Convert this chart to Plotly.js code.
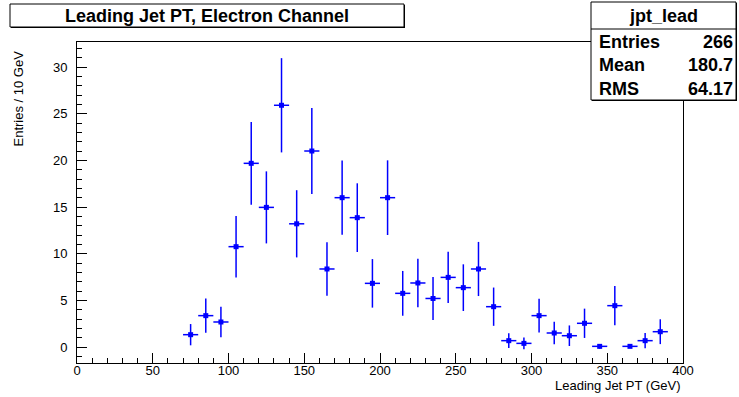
<!DOCTYPE html>
<html>
<head>
<meta charset="utf-8">
<script src="https://cdn.plot.ly/plotly-3.0.1.min.js"></script>
<style>
  html, body { margin: 0; padding: 0; background: #ffffff; }
  #chart { width: 739px; height: 397px; }
</style>
</head>
<body>
<div id="chart"></div>
<script>
// ---- data (jpt_lead) ----
const binCenters = [75, 85, 95, 105, 115, 125, 135, 145, 155, 165, 175, 185, 195, 205, 215, 225,
                    235, 245, 255, 265, 275, 285, 295, 305, 315, 325, 335, 345, 355, 365, 375, 385];
const binContents = [1.32, 3.36, 2.68, 10.75, 19.68, 14.96, 25.9, 13.2, 21.0, 8.36, 16.0, 13.86, 6.82, 16.0, 5.75, 6.86,
                     5.2, 7.46, 6.36, 8.36, 4.32, 0.68, 0.39, 3.36, 1.5, 1.21, 2.54, 0.07, 4.43, 0.07, 0.68, 1.64];
const binErrors = [1.14, 1.84, 1.63, 3.29, 4.43, 3.86, 5.05, 3.6, 4.6, 2.87, 3.98, 3.68, 2.6, 4.0, 2.4, 2.6,
                   2.3, 2.75, 2.5, 2.9, 2.05, 0.8, 0.64, 1.8, 1.2, 1.1, 1.57, 0.25, 2.1, 0.15, 0.82, 1.33];
const binHalfWidth = [5];

const chartTitle = "Leading Jet PT, Electron Channel";
const xTitle = "Leading Jet PT (GeV)";
const yTitle = "Entries / 10 GeV";
const statsName = "jpt_lead";
const statsLabels = ["Entries", "Mean", "RMS"];
const statsValues = ["266", "180.7", "64.17"];

// ---- layout geometry (pixels) ----
const W = 739, H = 397;
const L = 77, R = 683, T = 42, B = 363;
const px = X => (X - L) / (R - L);
const py = Y => (B - Y) / (B - T);
const font = "Liberation Sans, Arial, Helvetica, sans-serif";

const trace = {
  type: "scatter",
  mode: "markers",
  x: binCenters,
  y: binContents,
  marker: { symbol: "square", size: 5, color: "#0000ff" },
  error_y: { type: "data", array: binErrors, visible: true, color: "#0000ff", thickness: 1.5, width: 0 },
  error_x: { type: "constant", value: binHalfWidth[0], visible: true, color: "#0000ff", thickness: 1.5, width: 0 },
  hoverinfo: "x+y",
  showlegend: false
};

function box(x0, y0, x1, y1) {
  return [
    { type: "rect", xref: "paper", yref: "paper", layer: "above",
      x0: px(x0 + 1), x1: px(x1 + 1), y0: py(y0 + 1), y1: py(y1 + 1),
      line: { width: 0 }, fillcolor: "#000000" },
    { type: "rect", xref: "paper", yref: "paper", layer: "above",
      x0: px(x0), x1: px(x1), y0: py(y0), y1: py(y1),
      line: { width: 1, color: "#000000" }, fillcolor: "#ffffff" }
  ];
}

const shapes = []
  .concat(box(10, 4, 404, 27))
  .concat(box(591, 2, 736, 100))
  .concat([{ type: "line", xref: "paper", yref: "paper", layer: "above",
             x0: px(591), x1: px(736), y0: py(29), y1: py(29),
             line: { width: 1, color: "#000000" } }]);

const annotations = [
  { text: "<b>" + chartTitle + "</b>", xref: "paper", yref: "paper",
    x: px(207), y: py(15.5), xanchor: "center", yanchor: "middle", showarrow: false,
    font: { family: font, size: 18, color: "#000000" } },
  { text: "<b>" + statsName + "</b>", xref: "paper", yref: "paper",
    x: px(663.5), y: py(15.5), xanchor: "center", yanchor: "middle", showarrow: false,
    font: { family: font, size: 18, color: "#000000" } },
  { text: xTitle, xref: "paper", yref: "paper",
    x: px(683), y: py(385), xanchor: "right", yanchor: "middle", showarrow: false,
    font: { family: font, size: 13, color: "#000000" } },
  { text: yTitle, xref: "paper", yref: "paper", textangle: -90,
    x: px(17.5), y: py(49), xanchor: "center", yanchor: "top", showarrow: false,
    font: { family: font, size: 13, color: "#000000" } }
];
const rowY = [42, 65.5, 89];
for (let i = 0; i < statsLabels.length; i++) {
  annotations.push({ text: "<b>" + statsLabels[i] + "</b>", xref: "paper", yref: "paper",
    x: px(597), y: py(rowY[i]), xanchor: "left", yanchor: "middle", showarrow: false,
    font: { family: font, size: 18, color: "#000000" } });
  annotations.push({ text: "<b>" + statsValues[i] + "</b>", xref: "paper", yref: "paper",
    x: px(735), y: py(rowY[i]), xanchor: "right", yanchor: "middle", showarrow: false,
    font: { family: font, size: 18, color: "#000000" } });
}

const layout = {
  width: W, height: H,
  margin: { l: L, r: W - R, t: T, b: H - B, pad: 0 },
  paper_bgcolor: "#ffffff",
  plot_bgcolor: "#ffffff",
  font: { family: font, size: 13, color: "#000000" },
  xaxis: {
    range: [0, 400], tick0: 0, dtick: 50,
    ticks: "inside", ticklen: 10, tickwidth: 1, tickcolor: "#000000",
    ticklabelstandoff: -5,
    minor: { dtick: 10, ticks: "inside", ticklen: 5, tickwidth: 1, tickcolor: "#000000", showgrid: false },
    showline: true, mirror: true, linecolor: "#000000", linewidth: 1,
    showgrid: false, zeroline: false,
    tickfont: { family: font, size: 13, color: "#000000" }
  },
  yaxis: {
    range: [-1.714, 32.68], tick0: 0, dtick: 5,
    ticks: "inside", ticklen: 10, tickwidth: 1, tickcolor: "#000000",
    ticklabelstandoff: 6,
    minor: { dtick: 1, ticks: "inside", ticklen: 5, tickwidth: 1, tickcolor: "#000000", showgrid: false },
    showline: true, mirror: true, linecolor: "#000000", linewidth: 1,
    showgrid: false, zeroline: false,
    tickfont: { family: font, size: 13, color: "#000000" }
  },
  shapes: shapes,
  annotations: annotations
};

Plotly.newPlot("chart", [trace], layout, { displayModeBar: false, staticPlot: true });
</script>
</body>
</html>
